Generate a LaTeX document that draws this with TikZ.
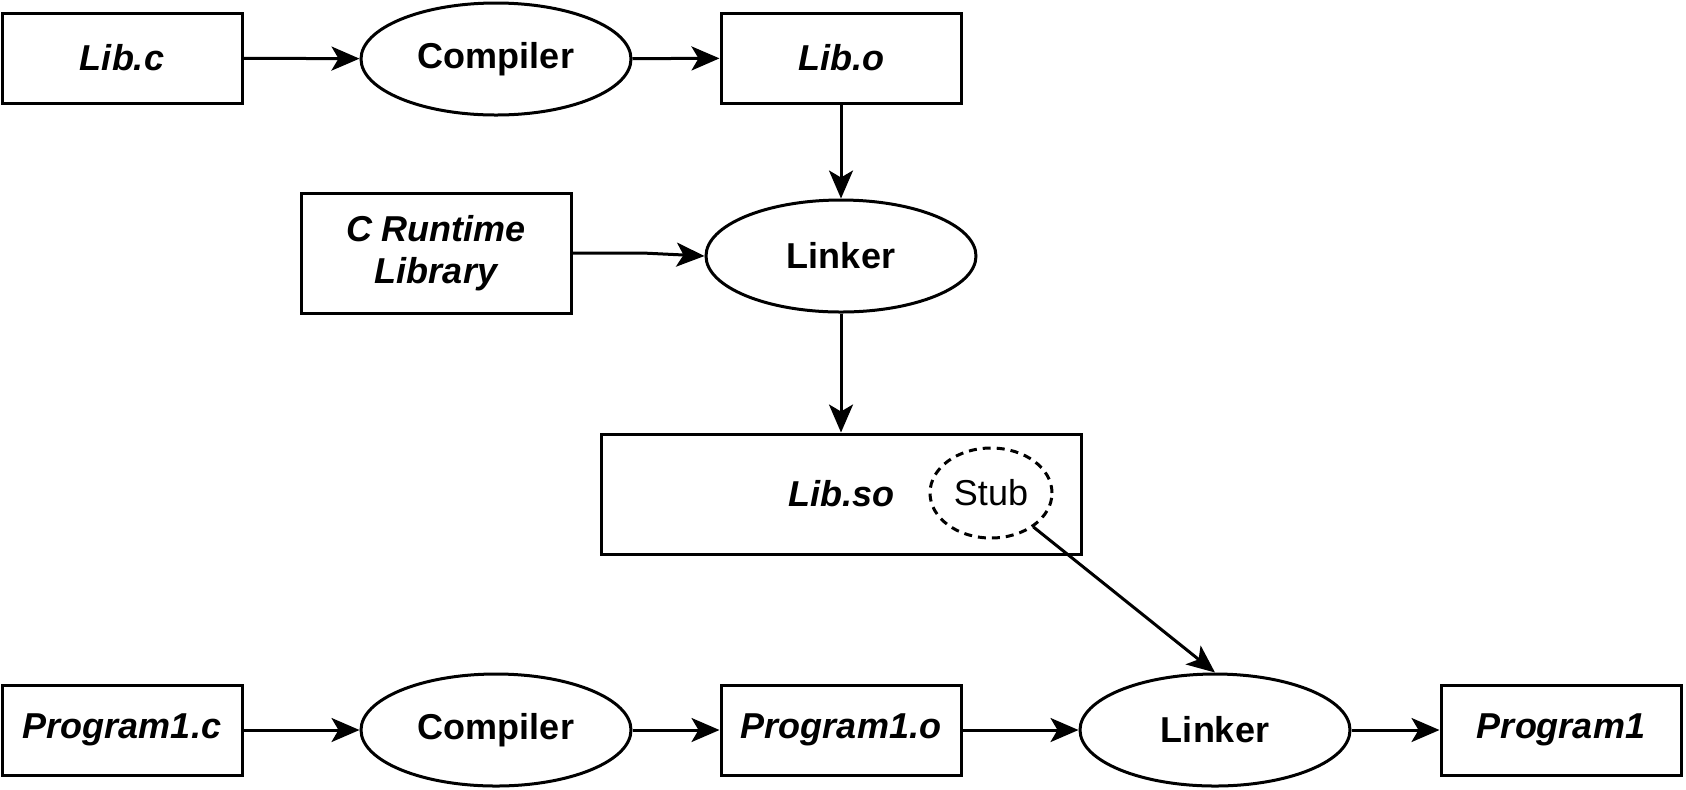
\documentclass[tikz,border=0pt]{standalone}
\usepackage{fontspec}
\setmainfont{Liberation Sans}
\usetikzlibrary{arrows.meta}
\usetikzlibrary{shapes.geometric}

\begin{document}
\begin{tikzpicture}[x=0.5pt,y=-0.5pt,line width=1.5pt]
	\useasboundingbox (0,0) rectangle (1686,789);
	\begin{scope}[every node/.style={draw, rectangle, minimum width=120pt, minimum height=45pt, inner sep=0pt, align=center,
	              font=\fontsize{18}{21}\selectfont\bfseries\itshape}]
	    	\node (1) at (122,58) {Lib.c};
	    	\node (3) at (841,58) {Lib.o};
	    	\node[minimum width=135pt, minimum height=60pt] (4) at (436,253) {C Runtime\\Library};
	    	\node[minimum width=240pt, minimum height=60pt] (6) at (841,494) {Lib.so};
	    	\node (8) at (122,730) {Program1.c};
	    	\node (10) at (841,730) {Program1.o};
	    	\node (12) at (1561,730) {Program1};
	\end{scope}
	\begin{scope}[every node/.style={draw, ellipse, minimum width=135pt, minimum height=56pt, inner sep=0pt,
	              font=\fontsize{18}{21}\selectfont\bfseries}]
	    	\node (2) at (496,59) {Compiler};
	    	\node (5) at (841,256) {Linker};
	    	\node (9) at (496,730) {Compiler};
	    	\node (11) at (1215,730) {Linker};
	\end{scope}
	\node[draw, dash pattern=on 4pt off 3pt, ellipse, minimum width=61pt, minimum height=45pt, inner sep=0pt,
	      font=\fontsize{18}{21}\selectfont] (7) at (991,493) {Stub};
	\begin{scope}[>={Stealth[length=14pt,width=12pt,inset=3.5pt]},
	              every edge/.style={draw=black,->}]
		\path (1) edge (2);
		\path (2) edge (3);
		\path (3) edge (5);
		\path (5) edge (6);
		\path (7) edge (11.north);
		\path (8) edge (9);
		\path (9) edge (10);
		\path (10) edge (11);
		\path (11) edge (12);
		\draw[->] (4.east) -- ++(70,0) -- (5.west);
	\end{scope}
\end{tikzpicture}
\end{document}
